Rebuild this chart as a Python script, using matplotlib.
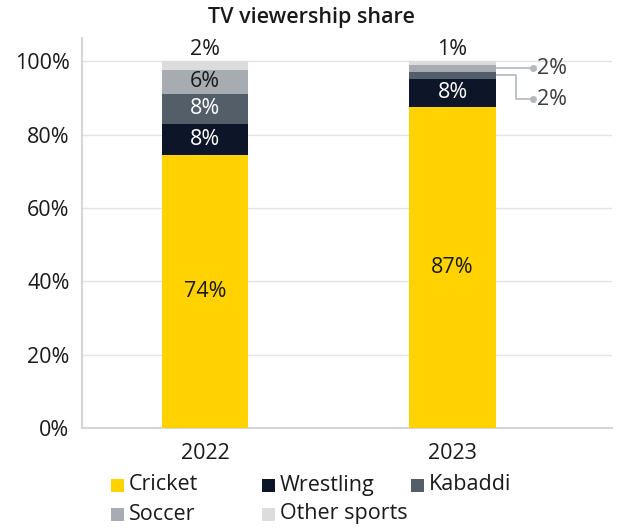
import matplotlib
matplotlib.use("Agg")
import matplotlib.pyplot as plt
from matplotlib.patches import Rectangle

plt.rcParams['font.family'] = ['Open Sans', 'DejaVu Sans']

years = ["2022", "2023"]
sports = ["Cricket", "Wrestling", "Kabaddi", "Soccer", "Other sports"]
shares = {
    "Cricket":      [74.4, 87.4],
    "Wrestling":    [8.4, 7.9],
    "Kabaddi":      [8.4, 1.9],
    "Soccer":       [6.4, 1.9],
    "Other sports": [2.4, 0.9],
}
colors = {
    "Cricket": "#FFD200",
    "Wrestling": "#0D1628",
    "Kabaddi": "#535E69",
    "Soccer": "#A6ACB2",
    "Other sports": "#DCDCDC",
}
label_colors = {
    "Cricket": "#1a1a1a",
    "Wrestling": "white",
    "Kabaddi": "white",
    "Soccer": "#1a1a1a",
    "Other sports": "#1a1a1a",
}
yticks = [0, 20, 40, 60, 80, 100]

W, H = 627, 528
fig = plt.figure(figsize=(W / 100, H / 100), dpi=100)
ax = fig.add_axes([0.1308, 0.1894, 0.8452, 0.739])

x = [0, 1]
width = 0.35
bottoms = [0.0, 0.0]
segs = {}
for s in sports:
    vals = shares[s]
    ax.bar(x, vals, width, bottom=bottoms, color=colors[s], zorder=3, linewidth=0)
    segs[s] = [(b, v) for b, v in zip(bottoms, vals)]
    bottoms = [b + v for b, v in zip(bottoms, vals)]

fs = 15.5
# values inside segments (large enough ones)
for s in sports:
    for i, (b, v) in enumerate(segs[s]):
        txt = f"{v:.0f}%"
        if s == "Other sports":
            ax.text(x[i], b + v + 0.3, txt, ha="center", va="bottom",
                    fontsize=fs, color="#1a1a1a", zorder=4)
        elif v >= 4:
            ax.text(x[i], b + v / 2, txt, ha="center", va="center",
                    fontsize=fs, color=label_colors[s], zorder=4)

# callouts for thin 2023 segments
line_c = "#B4B9BE"
xr = x[1] + width / 2
xend = xr + 0.15
sb, sv = segs["Soccer"][1]
ys = sb + sv / 2
ax.plot([xr, xend], [ys, ys], color=line_c, lw=1.2, zorder=2, clip_on=False)
ax.plot([xend], [ys], "o", ms=4, color=line_c, zorder=2, clip_on=False)
ax.text(xend + 0.015, ys, f"{sv:.0f}%", ha="left", va="center", fontsize=fs, color="#3c3c3c")

kb, kv = segs["Kabaddi"][1]
yk = kb + kv / 2
xmid = xr + 0.08
ylow = yk - 6.6
ax.plot([xr, xmid, xmid, xend], [yk, yk, ylow, ylow], color=line_c, lw=1.2, zorder=2, clip_on=False)
ax.plot([xend], [ylow], "o", ms=4, color=line_c, zorder=2, clip_on=False)
ax.text(xend + 0.015, ylow, f"{kv:.0f}%", ha="left", va="center", fontsize=fs, color="#3c3c3c")

ax.set_xlim(-0.497, 1.644)
ax.set_ylim(0, 106.4)
ax.set_yticks(yticks)
ax.set_yticklabels([f"{t}%" for t in yticks])
ax.set_xticks(x)
ax.set_xticklabels(years)
ax.tick_params(axis="both", length=0, labelsize=fs, colors="#1a1a1a")
ax.tick_params(axis="y", pad=9)
ax.tick_params(axis="x", pad=11)
ax.grid(axis="y", color="#E3E3E3", lw=1, zorder=0)
for sp in ["top", "right"]:
    ax.spines[sp].set_visible(False)
for sp in ["left", "bottom"]:
    ax.spines[sp].set_color("#D6D6D6")
    ax.spines[sp].set_linewidth(1.5)

fig.text(0.497, 0.966, "TV viewership share", ha="center", va="center",
         fontsize=15.5, fontweight="semibold", color="#1a1a1a")

# legend laid out in two rows of three columns
legend_rows = [["Cricket", "Wrestling", "Kabaddi"], ["Soccer", "Other sports"]]
col_x = [111, 262, 411]
row_y = [485, 514]
sq = 13
for r, row in enumerate(legend_rows):
    for c, name in enumerate(row):
        px, py = col_x[c], row_y[r]
        fig.add_artist(Rectangle(((px) / W, 1 - (py + sq / 2) / H), sq / W, sq / H,
                                 transform=fig.transFigure, facecolor=colors[name],
                                 edgecolor="none"))
        fig.text((px + sq + 5) / W, 1 - py / H, name, ha="left", va="center",
                 fontsize=fs, color="#1a1a1a")

fig.savefig("out.png", dpi=100)
